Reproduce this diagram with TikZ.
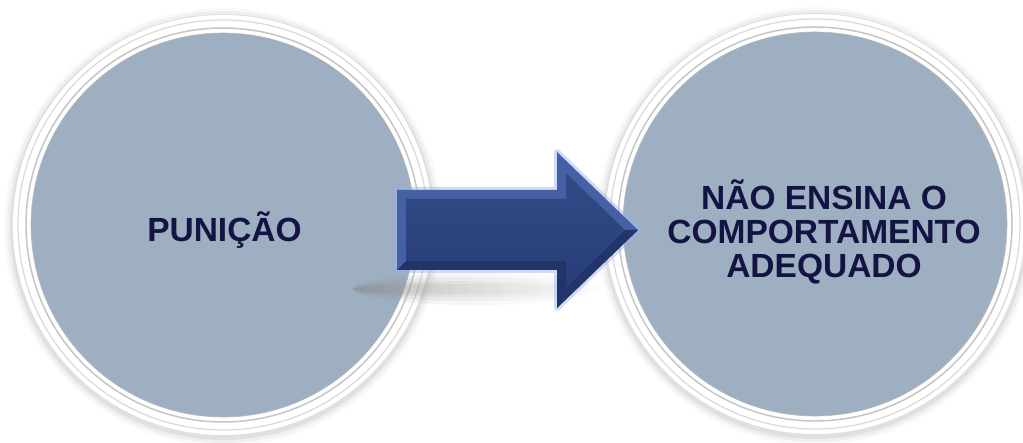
\documentclass[tikz,border=0pt]{standalone}
\usepackage{fontspec}
\setmainfont{Liberation Sans}
\usetikzlibrary{backgrounds}
\definecolor{bolacor}{RGB}{158,175,193}
\definecolor{textocor}{RGB}{20,20,68}
\definecolor{setaclara}{RGB}{70,96,164}
\definecolor{setaescura}{RGB}{34,52,104}
\definecolor{setatopo}{RGB}{50,74,134}
\definecolor{setabase}{RGB}{40,62,122}
\definecolor{brilho}{RGB}{150,178,240}
\begin{document}
\begin{tikzpicture}[x=1pt,y=-1pt,
    bola/.style={circle,fill=bolacor,draw=gray!55,line width=0.6pt,minimum size=384pt,inner sep=0pt},
    rotulo/.style={text=textocor,font=\bfseries\fontsize{33.5}{34}\selectfont,align=center,inner sep=0pt}]
    \useasboundingbox (0,0) rectangle (1023,443);
    \node[bola] (punicao) at (223,225) {};
    \node[bola] (naoensina) at (815,224) {};
    \begin{scope}[on background layer]
        \fill[white] (0,0) rectangle (1023,443);
        \foreach \b in {punicao,naoensina}{
            \foreach \r/\o in {219/0.025,216/0.04,213/0.06}
                \fill[black,opacity=\o] ([yshift=-2pt]\b.center) circle (\r pt);
            \fill[white] (\b.center) circle (210pt);
            \draw[gray!30,line width=1.2pt] (\b.center) circle (205pt);
            \draw[gray!45,line width=1.5pt] (\b.center) circle (197pt);
        }
    \end{scope}
    \foreach \h/\o in {16/0.12,12/0.15,8/0.18,5/0.2}
        \shade[left color=gray,right color=white,opacity=\o] (478,289) ellipse (125pt and \h pt);
    \coordinate (cauda) at (397,230);
    \coordinate (ponta) at (638,230);
    \begin{scope}[shift={(cauda)}]
        \draw[brilho,line width=6pt,opacity=0.45,line join=round] (0,-40) -- (160,-40) -- (160,-78) -- (241,0) -- (160,78) -- (160,40) -- (0,40) -- cycle;
        \fill[setaclara] (0,-40) -- (160,-40) -- (160,-78) -- (241,0) -- (160,78) -- (160,40) -- (0,40) -- cycle;
        \fill[setaescura] (241,0) -- (160,78) -- (160,40) -- (0,40) -- (9,31) -- (169,31) -- (169,57) -- (228,0) -- cycle;
        \shade[top color=setatopo,bottom color=setabase] (9,-31) -- (169,-31) -- (169,-57) -- (228,0) -- (169,57) -- (169,31) -- (9,31) -- cycle;
    \end{scope}
    \node[rotulo,anchor=base] (txtpunicao) at (224.5,242) {PUNIÇÃO};
    \node[rotulo] (txtnao) at (824,231.5) {NÃO ENSINA O\\COMPORTAMENTO\\ADEQUADO};
\end{tikzpicture}
\end{document}
